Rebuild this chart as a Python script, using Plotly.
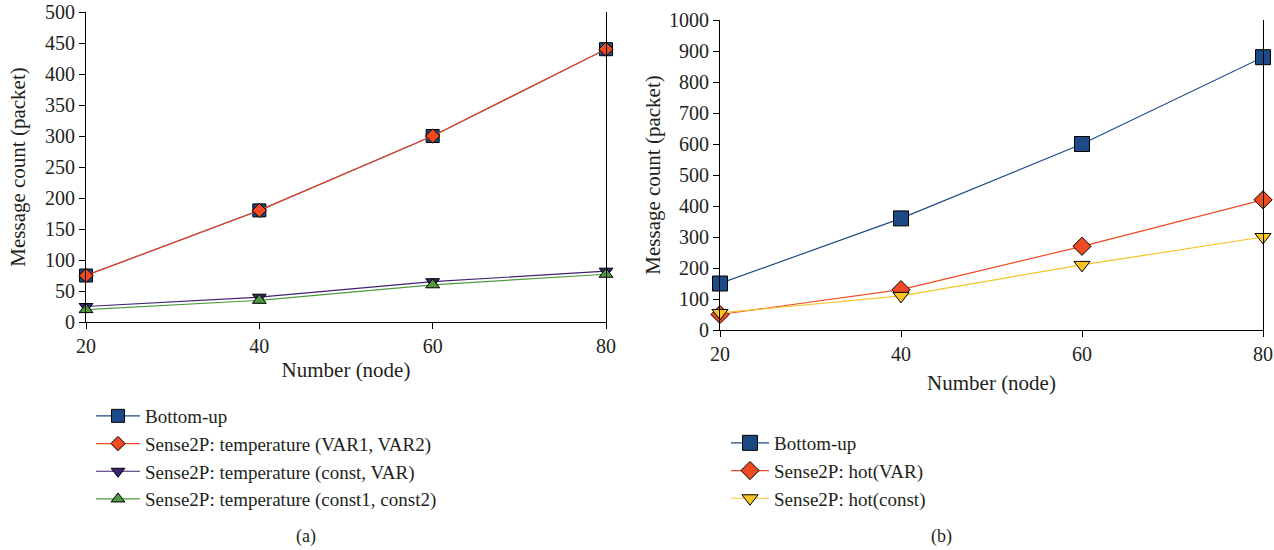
import plotly.graph_objects as go

nodes = [20, 40, 60, 80]

# Panel (a)
a_bottom_up = [75, 180, 300, 440]
a_var1_var2 = [75, 180, 300, 440]
a_const_var = [25, 40, 65, 82]
a_const1_const2 = [20, 35, 60, 77]

# Panel (b)
b_bottom_up = [150, 360, 600, 880]
b_hot_var = [50, 130, 270, 420]
b_hot_const = [55, 110, 210, 300]

a_ticks = [0, 50, 100, 150, 200, 250, 300, 350, 400, 450, 500]
b_ticks = [0, 100, 200, 300, 400, 500, 600, 700, 800, 900, 1000]

BLUE = "#1B4A86"
RED = "#F04A22"
PURPLE = "#3E2270"
GREEN = "#4E9A3C"
YELLOW = "#F6C423"
FONT = "Liberation Serif"
TXT = "#231F20"

fig = go.Figure()

def add(x, y, name, color, symbol, size, xa, ya, legend):
    fig.add_trace(go.Scatter(
        x=x, y=y, name=name, mode="lines+markers",
        line=dict(color=color, width=1.2),
        marker=dict(symbol=symbol, size=size, color=color,
                    line=dict(color="black", width=1)),
        xaxis=xa, yaxis=ya, legend=legend, cliponaxis=False))

add(nodes, a_bottom_up, "Bottom-up", BLUE, "square", 13, "x", "y", "legend")
add(nodes, a_var1_var2, "Sense2P: temperature (VAR1, VAR2)", RED, "diamond", 11, "x", "y", "legend")
add(nodes, a_const_var, "Sense2P: temperature (const, VAR)", PURPLE, "triangle-down", 12, "x", "y", "legend")
add(nodes, a_const1_const2, "Sense2P: temperature (const1, const2)", GREEN, "triangle-up", 12, "x", "y", "legend")

add(nodes, b_bottom_up, "Bottom-up", BLUE, "square", 15, "x2", "y2", "legend2")
add(nodes, b_hot_var, "Sense2P: hot(VAR)", RED, "diamond", 14, "x2", "y2", "legend2")
add(nodes, b_hot_const, "Sense2P: hot(const)", YELLOW, "triangle-down", 14, "x2", "y2", "legend2")

W, H = 1274, 550
def px(x): return x / W
def py(y): return 1 - y / H

axis_common = dict(showgrid=False, zeroline=False, showline=True, linecolor="black",
                   linewidth=1, ticks="outside", ticklen=6, tickcolor="black",
                   automargin=False,
                   tickfont=dict(family=FONT, size=20, color=TXT))

fig.update_layout(
    width=W, height=H, paper_bgcolor="white", plot_bgcolor="white",
    margin=dict(l=0, r=0, t=0, b=0),
    font=dict(family=FONT, color=TXT),
    xaxis=dict(domain=[px(86), px(606)], anchor="y", range=[20, 80],
               tickvals=nodes, title=dict(text="Number (node)", font=dict(size=21), standoff=6),
               **axis_common),
    yaxis=dict(domain=[py(322), py(12)], anchor="x", range=[0, 500],
               tickvals=a_ticks, mirror=True,
               title=dict(text="Message count (packet)", font=dict(size=21), standoff=13),
               **axis_common),
    xaxis2=dict(domain=[px(720), px(1263)], anchor="y2", range=[20, 80],
                tickvals=nodes, title=dict(text="Number (node)", font=dict(size=21), standoff=11),
                **axis_common),
    yaxis2=dict(domain=[py(330), py(20)], anchor="x2", range=[0, 1000],
                tickvals=b_ticks, mirror=True,
                title=dict(text="Message count (packet)", font=dict(size=21), standoff=2),
                **axis_common),
    legend=dict(x=px(91), y=py(397), xanchor="left", yanchor="top",
                font=dict(family=FONT, size=19, color=TXT), itemwidth=44,
                bgcolor="rgba(0,0,0,0)", tracegroupgap=0),
    legend2=dict(x=px(726), y=py(424), xanchor="left", yanchor="top",
                 font=dict(family=FONT, size=19, color=TXT), itemwidth=38,
                 bgcolor="rgba(0,0,0,0)", tracegroupgap=0),
    annotations=[
        dict(text="(a)", x=px(306), y=py(536), xref="paper", yref="paper",
             xanchor="center", yanchor="middle",
             showarrow=False, font=dict(family=FONT, size=18, color=TXT)),
        dict(text="(b)", x=px(941), y=py(536), xref="paper", yref="paper",
             xanchor="center", yanchor="middle",
             showarrow=False, font=dict(family=FONT, size=18, color=TXT)),
    ],
)

fig.write_html("out.html", config={"displayModeBar": False},
               post_script="document.body.style.margin='0';")
